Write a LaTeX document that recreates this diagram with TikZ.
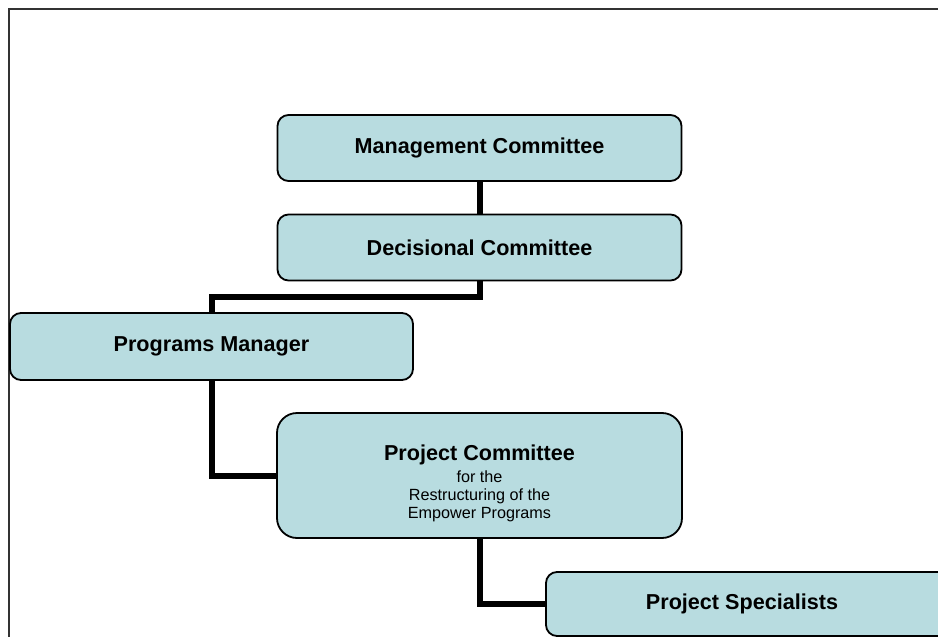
\documentclass[tikz,border=0pt]{standalone}
\usepackage{fontspec}
\setmainfont{Liberation Sans}
\usetikzlibrary{backgrounds}
\definecolor{boxfill}{RGB}{184,220,224}
\definecolor{framegray}{RGB}{51,51,51}
\newcommand{\headfont}{\fontsize{21.6}{24}\selectfont\bfseries}
\newcommand{\subfont}{\fontsize{16.2}{18}\selectfont\mdseries}
\tikzset{
  orgbox/.style={draw=black, line width=1.8pt, fill=boxfill, rounded corners=11pt,
    inner sep=0pt, align=center, font=\headfont},
  bigbox/.style={orgbox, rounded corners=20pt, font=\subfont},
  link/.style={draw=black, line width=6pt},
}
\begin{document}
\begin{tikzpicture}[x=1pt, y=-1pt]
  \useasboundingbox (0,0) rectangle (938,637);
  \clip (0,0) rectangle (938,637);

  % outer frame (left and top edges)
  \draw[framegray, line width=2.5pt] (9,640) -- (9,9) -- (940,9);

  % boxes
  \node[orgbox, minimum width=404pt, minimum height=66pt] (mc) at (479.5,148) {Management Committee};
  \node[orgbox, minimum width=404pt, minimum height=66pt] (dc) at (479.5,247.5) {Decisional Committee};
  \node[orgbox, minimum width=403pt, minimum height=67pt] (pm) at (211.5,346.5) {Programs Manager};
  \node[bigbox, minimum width=405pt, minimum height=125pt] (pc) at (479.5,475.5)
    {\rule{0pt}{31pt}{\headfont Project Committee}\\[4pt]
     for the\\
     Restructuring of the\\
     Empower Programs};
  \node[orgbox, minimum width=414pt, minimum height=64pt] (ps) at (753,604)
    {Project Specialists\hspace{22pt}};

  % connectors
  \begin{scope}[on background layer]
    \draw[link] (mc.south) -- (dc.north);
    \draw[link] (dc.south) -- ++(0,16) -| (pm.north);
    \draw[link] (pm.south) |- (pc.west);
    \draw[link] (pc.south) |- (ps.west);
  \end{scope}
\end{tikzpicture}
\end{document}
